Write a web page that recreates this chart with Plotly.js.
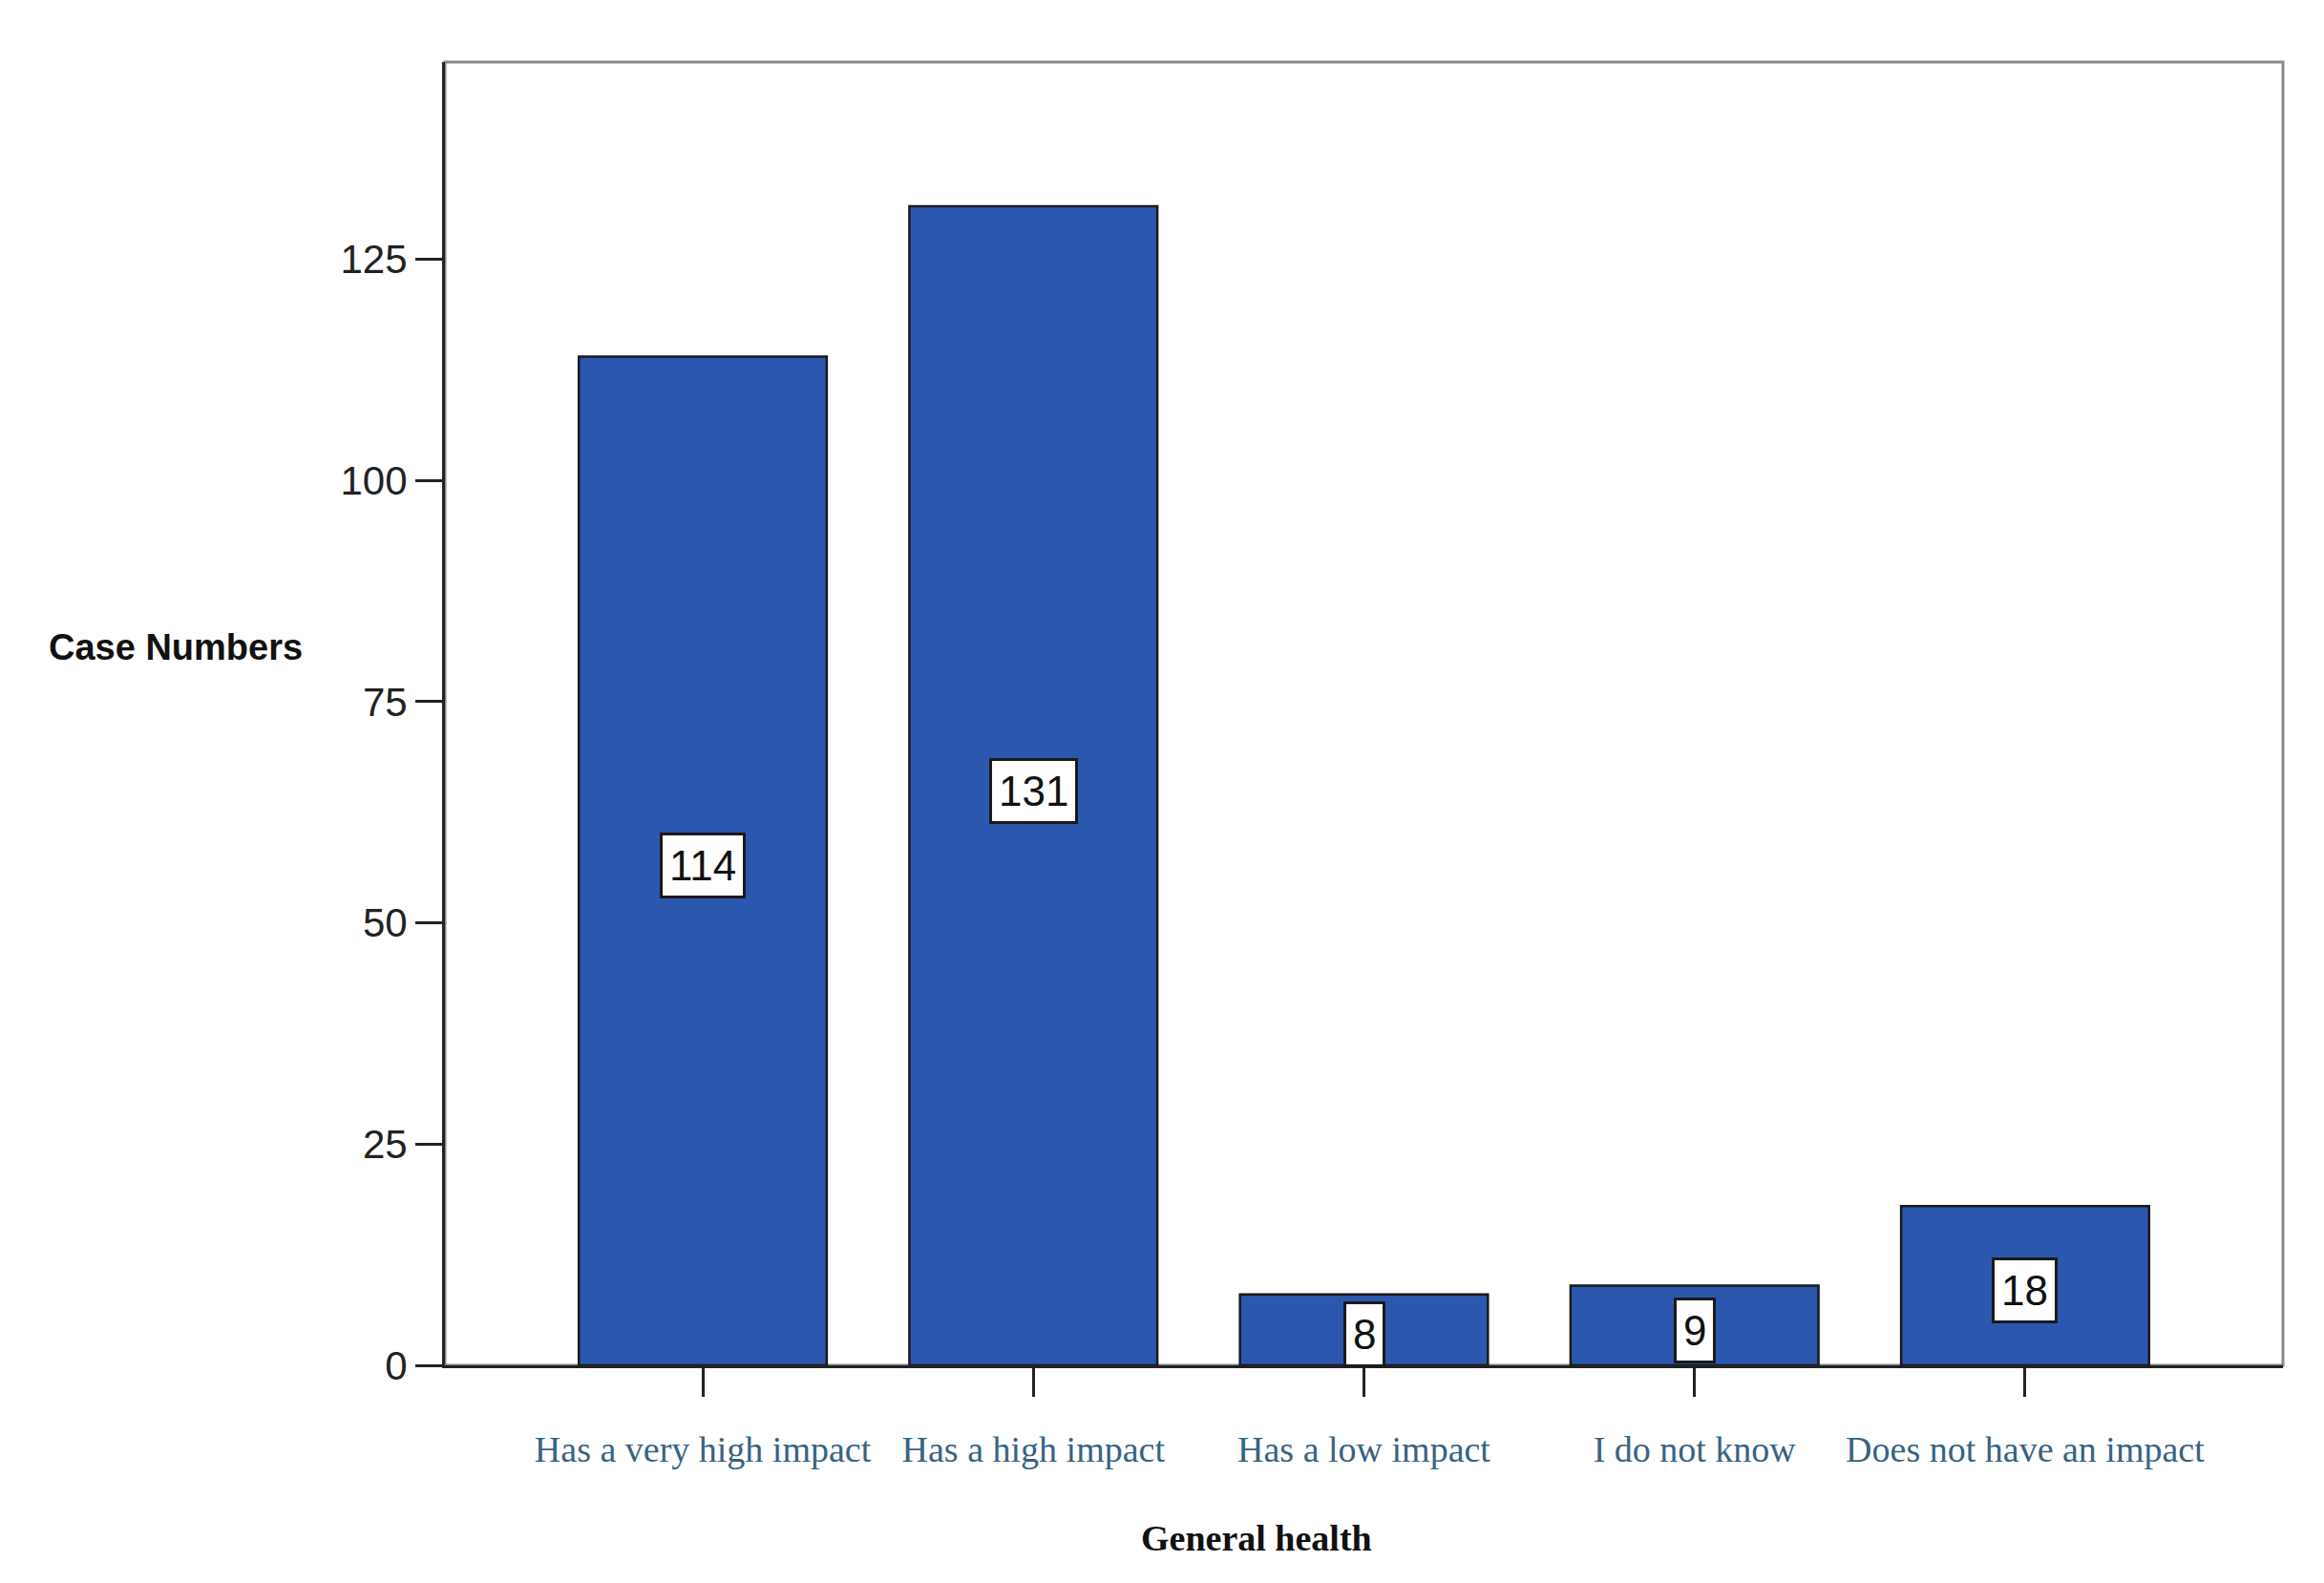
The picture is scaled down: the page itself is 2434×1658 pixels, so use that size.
<!DOCTYPE html>
<html>
<head>
<meta charset="utf-8">
<script src="https://cdn.plot.ly/plotly-3.0.1.min.js"></script>
<style>html,body{margin:0;padding:0;background:#fff;}#chart{width:2434px;height:1658px;}</style>
</head>
<body>
<div id="chart"></div>
<script>
const categories = ["Has a very high impact", "Has a high impact", "Has a low impact", "I do not know", "Does not have an impact"];
const caseNumbers = [114, 131, 8, 9, 18];
const yTicks = [0, 25, 50, 75, 100, 125];

const trace = {
  type: "bar",
  x: [0, 1, 2, 3, 4],
  y: caseNumbers,
  width: 0.75,
  marker: {color: "#2B57AE", line: {color: "#1a1a1a", width: 2.5}},
  hoverinfo: "skip",
  showlegend: false
};

const valueLabels = caseNumbers.map((v, i) => ({
  x: i, y: v / 2, xref: "x", yref: "y",
  text: String(v), showarrow: false, yshift: -5,
  font: {family: "Liberation Sans, Arial, sans-serif", size: 44, color: "#111"},
  bgcolor: "#ffffff", bordercolor: "#1a1a1a", borderwidth: 3, borderpad: 7
}));

const layout = {
  width: 2434, height: 1658,
  margin: {l: 466, r: 43, t: 65, b: 228},
  paper_bgcolor: "#ffffff", plot_bgcolor: "#ffffff",
  xaxis: {
    range: [-0.78, 4.78],
    tickmode: "array", tickvals: [0, 1, 2, 3, 4], ticktext: categories,
    ticks: "outside", ticklen: 30, tickwidth: 3, tickcolor: "#222",
    showline: true, linecolor: "#222", linewidth: 3,
    showgrid: false, zeroline: false,
    ticklabelstandoff: 22,
    tickfont: {family: "Liberation Serif, Times New Roman, serif", size: 38, color: "#376384"}
  },
  yaxis: {
    range: [0, 147.3],
    tickmode: "array", tickvals: yTicks,
    ticks: "outside", ticklen: 28, tickwidth: 3, tickcolor: "#222",
    showline: true, linecolor: "#222", linewidth: 3,
    showgrid: false, zeroline: false,
    tickfont: {family: "Liberation Sans, Arial, sans-serif", size: 42, color: "#222"}
  },
  shapes: [{
    type: "rect", xref: "paper", yref: "paper", x0: 0, x1: 1, y0: 0, y1: 1,
    line: {color: "#888", width: 3}, layer: "below"
  }],
  annotations: valueLabels.concat([
    {x: 1316, y: 1611, xref: "paper", yref: "paper", xanchor: "center", yanchor: "middle",
     text: "<b>General health</b>", showarrow: false,
     font: {family: "Liberation Serif, Times New Roman, serif", size: 38, color: "#111"}},
    {x: 184, y: 678, xref: "paper", yref: "paper", xanchor: "center", yanchor: "middle",
     text: "<b>Case Numbers</b>", showarrow: false,
     font: {family: "Liberation Sans, Arial, sans-serif", size: 38, color: "#111"}}
  ])
};
// convert pixel positions of the two titles to paper coordinates
const pw = 2434 - 466 - 43, ph = 1658 - 65 - 228;
layout.annotations.forEach(a => {
  if (a.xref === "paper") { a.x = (a.x - 466) / pw; a.y = (1658 - 228 - a.y) / ph; }
});

Plotly.newPlot("chart", [trace], layout, {displayModeBar: false, staticPlot: true});
</script>
</body>
</html>
